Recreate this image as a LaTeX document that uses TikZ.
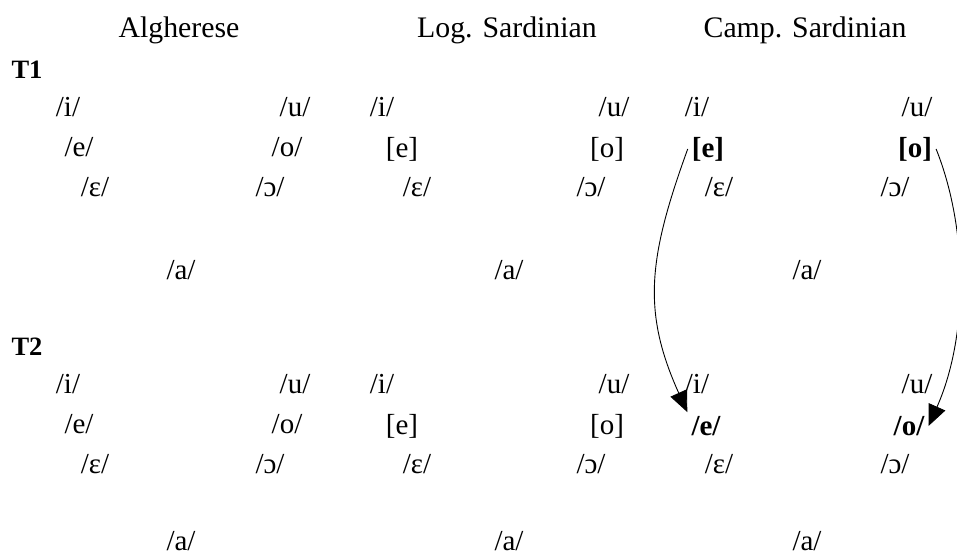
\documentclass[tikz,border=0pt]{standalone}
\usepackage{fontspec}
\setmainfont{Liberation Serif}
\usetikzlibrary{arrows.meta}

\begin{document}
\begin{tikzpicture}[x=1pt,y=-1pt,
  vwl/.style={inner sep=1pt,font=\fontsize{29}{34}\selectfont},
  bvwl/.style={inner sep=4pt,font=\fontsize{29}{34}\selectfont\bfseries},
  hd/.style={inner sep=1pt,font=\fontsize{29.8}{34}\selectfont},
  tm/.style={inner sep=1pt,font=\fontsize{26.5}{30}\selectfont\bfseries},
  chg/.style={-{Triangle[length=21pt,width=18pt]},line width=0.9pt}
]
  \useasboundingbox (0,0) rectangle (957,556);
  % language headers
  \node[hd] (alg) at (179,30) {Algherese};
  \node[hd] (log) at (507,30) {Log. Sardinian};
  \node[hd] (camp) at (805,30) {Camp. Sardinian};
  % the two stages T1 and T2
  \foreach \t/\dy/\ya in {1/0/270,2/277/541}{
    \node[tm] (t\t) at (27,70+\dy) {T\t};
    % Algherese
    \node[vwl] (ai\t) at (68,107+\dy) {/i/};
    \node[vwl] (au\t) at (295,107+\dy) {/u/};
    \node[vwl] (ae\t) at (79,147+\dy) {/e/};
    \node[vwl] (ao\t) at (287,147+\dy) {/o/};
    \node[vwl] (aE\t) at (95,187+\dy) {/ɛ/};
    \node[vwl] (aO\t) at (270,187+\dy) {/ɔ/};
    \node[vwl] (aa\t) at (181,\ya) {/a/};
    % Logudorese
    \node[vwl] (li\t) at (382,107+\dy) {/i/};
    \node[vwl] (lu\t) at (614,107+\dy) {/u/};
    \node[vwl] (le\t) at (402,149+\dy) {[e]};
    \node[vwl] (lo\t) at (607,149+\dy) {[o]};
    \node[vwl] (lE\t) at (417,187+\dy) {/ɛ/};
    \node[vwl] (lO\t) at (591,187+\dy) {/ɔ/};
    \node[vwl] (la\t) at (509,\ya) {/a/};
    % Campidanese
    \node[vwl] (ci\t) at (697,107+\dy) {/i/};
    \node[vwl] (cu\t) at (917,107+\dy) {/u/};
    \node[vwl] (cE\t) at (719,187+\dy) {/ɛ/};
    \node[vwl] (cO\t) at (895,187+\dy) {/ɔ/};
    \node[vwl] (ca\t) at (807,\ya) {/a/};
  }
  \node[bvwl] (ce1) at (708,149) {[e]};
  \node[bvwl] (co1) at (915,149) {[o]};
  \node[bvwl] (ce2) at (706,426) {/e/};
  \node[bvwl] (co2) at (909,426) {/o/};
  % phonologisation
  \draw[chg] (ce1.west) .. controls +(-40,110) and +(-45,-100) .. (ce2.north west);
  \draw[chg] (co1.east) .. controls +(32,80) and +(40,-90) .. (co2.east);
\end{tikzpicture}
\end{document}
